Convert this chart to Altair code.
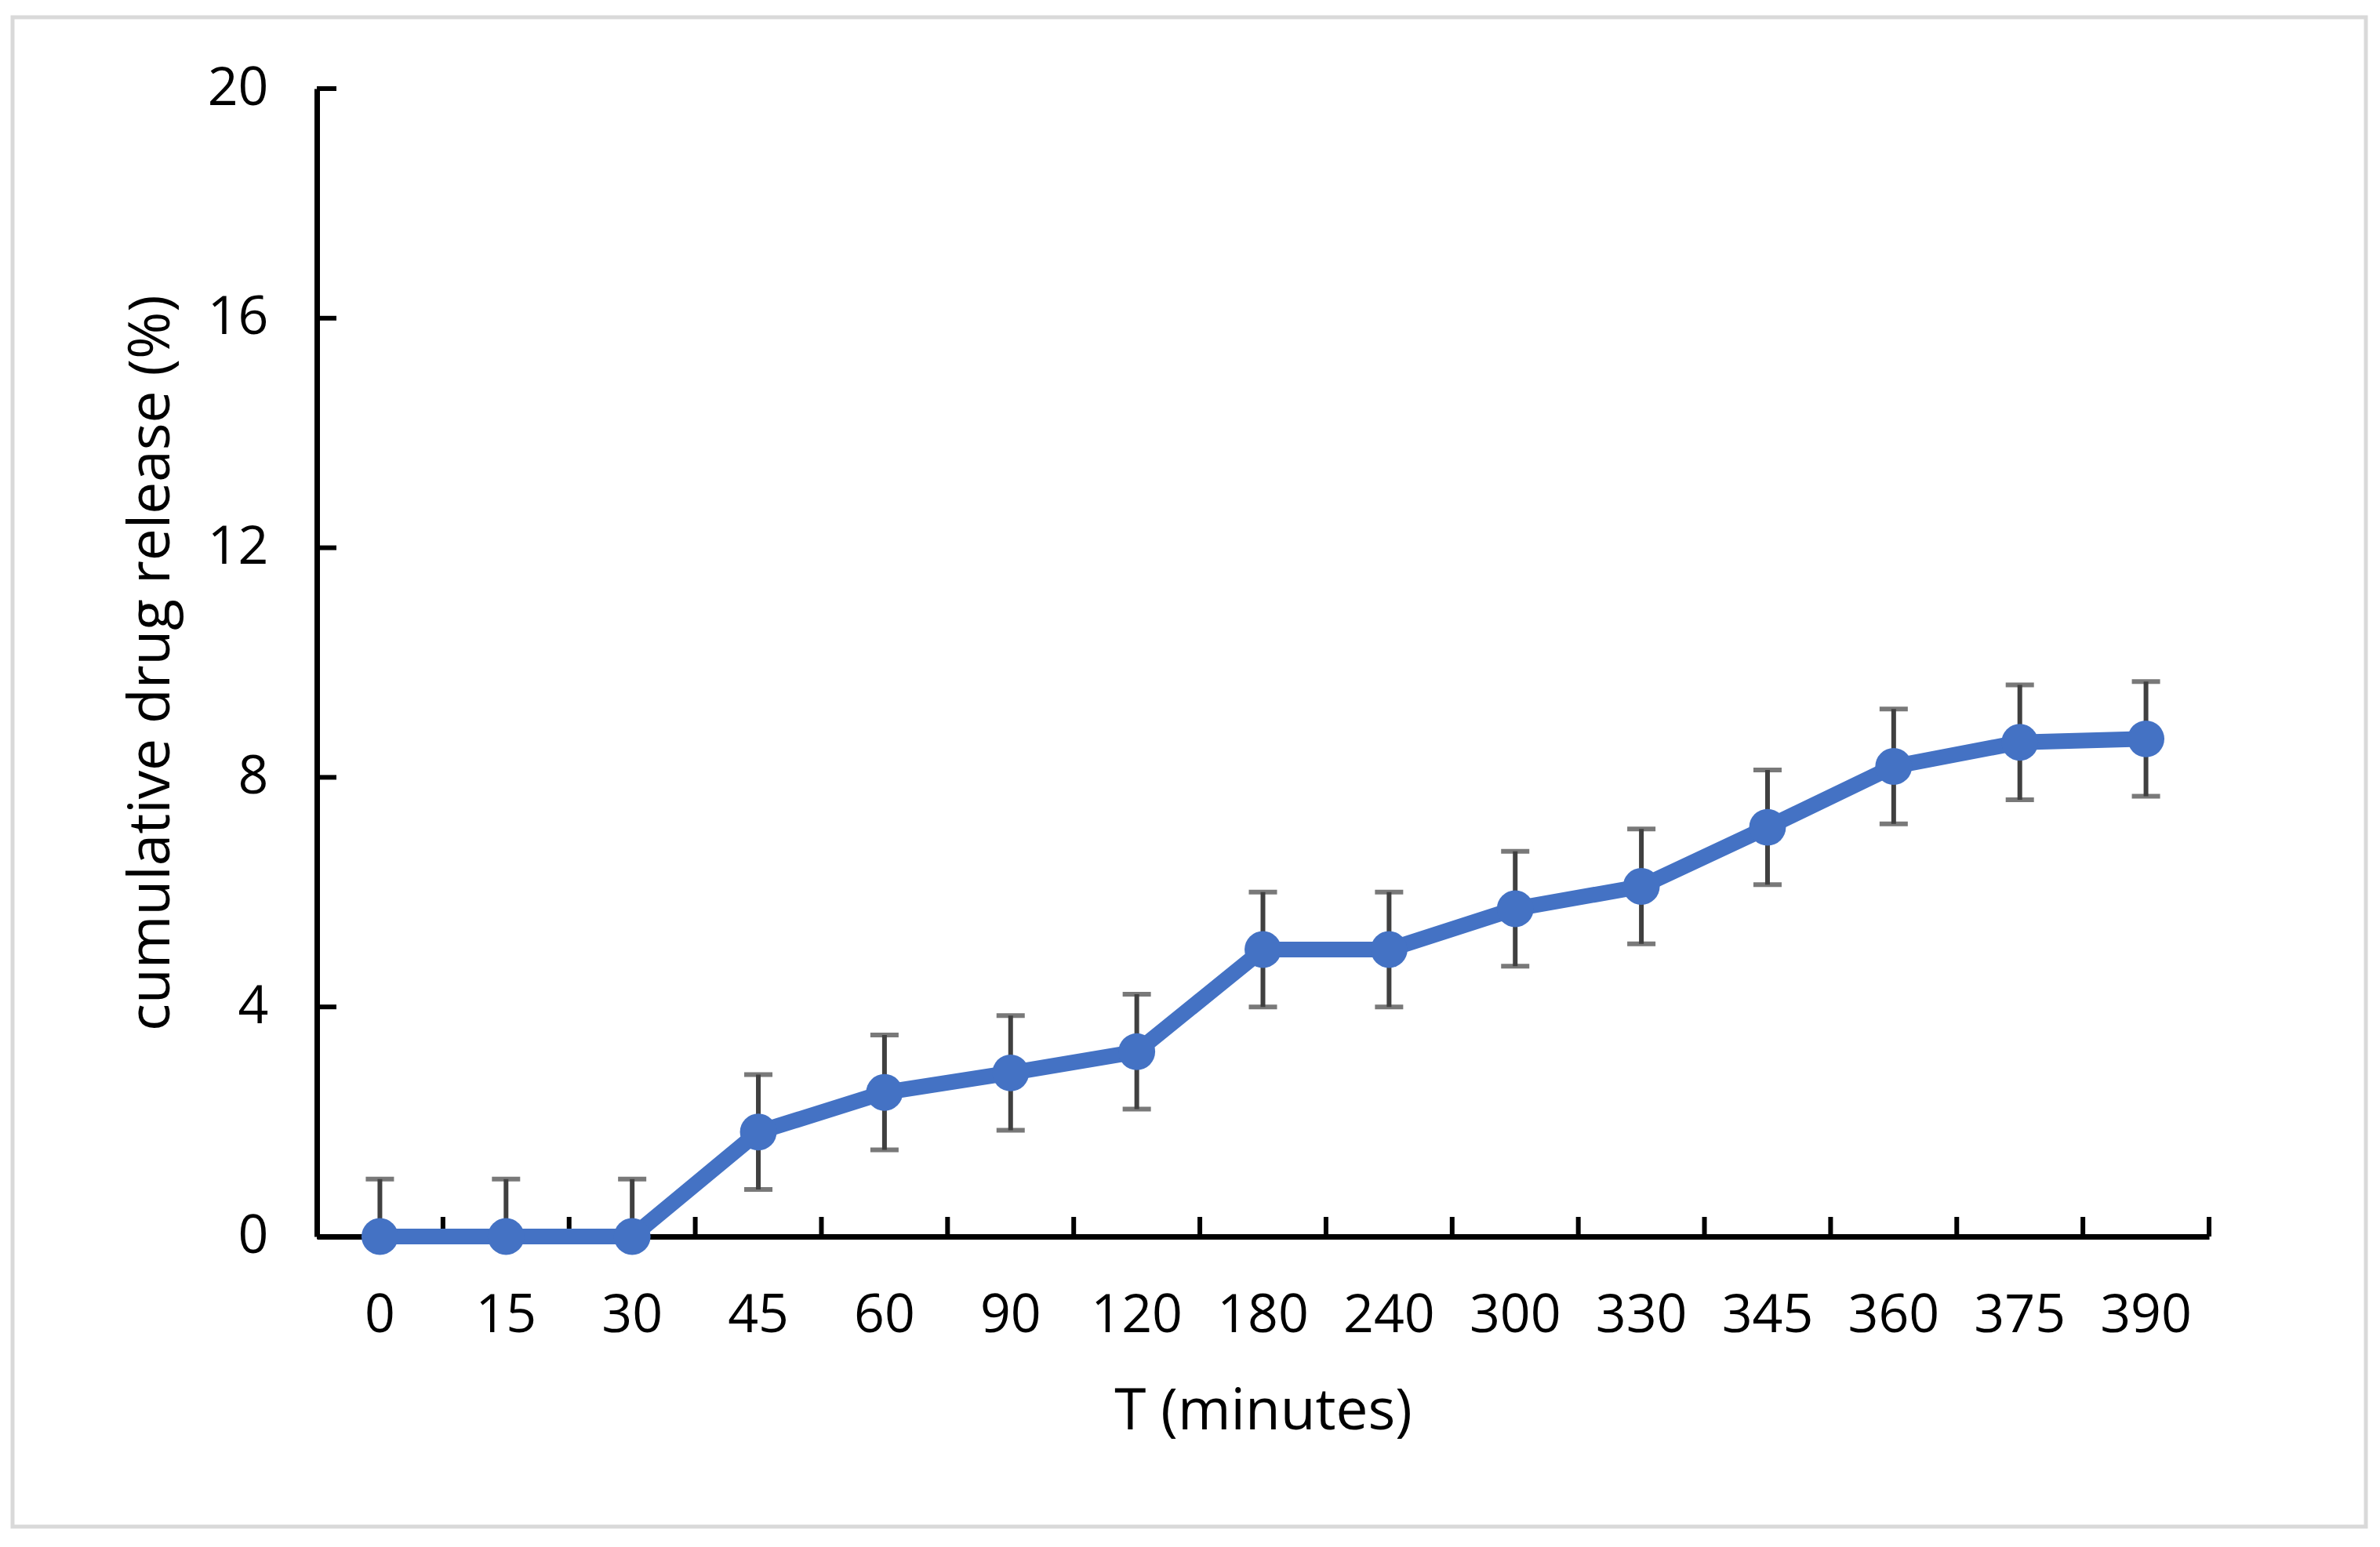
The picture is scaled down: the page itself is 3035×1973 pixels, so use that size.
import altair as alt
import pandas as pd

# ---- data ----
times = ["0", "15", "30", "45", "60", "90", "120", "180", "240", "300", "330", "345", "360", "375", "390"]
release = [0, 0, 0, 1.82, 2.51, 2.85, 3.22, 5.0, 5.0, 5.71, 6.1, 7.13, 8.19, 8.61, 8.67]
error = [1.0] * 15
y_ticks = [0, 4, 8, 12, 16, 20]

df = pd.DataFrame({"T": times, "pct": release, "err": error})
df["hi"] = df["pct"] + df["err"]
df["lo"] = (df["pct"] - df["err"]).clip(lower=0)
ticks_df = pd.DataFrame({"v": y_ticks})

W, H = 2413, 1464
FONT = "Open Sans"
BLUE = "#4472C4"
ERR = "#404040"

xscale = alt.Scale(type="band", domain=times, paddingInner=0, paddingOuter=0)
yscale = alt.Scale(domain=[0, 20], nice=False, zero=True)

base = alt.Chart(df)

x_axis = alt.Axis(
    title="T (minutes)", labelFont=FONT, labelFontSize=68, labelColor="#000000",
    titleFont=FONT, titleFontSize=73, titleFontWeight="normal", titleColor="#000000",
    ticks=False, labelPadding=67, titlePadding=52, labelAngle=0, bandPosition=0.5,
    domainColor="#000000", domainWidth=7, grid=False,
)
y_axis = alt.Axis(
    title="cumulative drug release (%)", values=y_ticks, format="d", labelFont=FONT,
    labelFontSize=68, labelColor="#000000", titleFont=FONT, titleFontSize=73,
    titleFontWeight="normal", titleColor="#000000", ticks=False, labelPadding=62,
    titlePadding=34, domainColor="#000000", domainWidth=7, grid=False,
)

X = lambda **kw: alt.X("T:N", sort=times, scale=xscale, axis=x_axis, **kw)

err_rule = base.mark_rule(color=ERR, strokeWidth=6).encode(
    x=X(), y=alt.Y("lo:Q", scale=yscale, axis=y_axis), y2="hi:Q",
)

# frame around the whole figure (decoration)
frame = alt.Chart(pd.DataFrame({"a": [0]})).mark_rect(
    fill="transparent", stroke="#d9d9d9", strokeWidth=5
).encode(x=alt.value(-388), x2=alt.value(2613), y=alt.value(-91), y2=alt.value(1834))

cap_hi = base.mark_tick(color=ERR, size=36, thickness=6).encode(
    x=X(), y=alt.Y("hi:Q", scale=yscale, axis=y_axis)
)
cap_lo = base.mark_tick(color=ERR, size=36, thickness=6).encode(
    x=X(), y=alt.Y("lo:Q", scale=yscale, axis=y_axis)
)
line = base.mark_line(color=BLUE, strokeWidth=20).encode(
    x=X(), y=alt.Y("pct:Q", scale=yscale, axis=y_axis)
)
pts = base.mark_point(color=BLUE, filled=True, size=2200, opacity=1).encode(
    x=X(), y=alt.Y("pct:Q", scale=yscale, axis=y_axis)
)

# inside tick marks (Excel style) on both axes
xt = base.mark_rule(color="#000000", strokeWidth=6).encode(
    x=X(bandPosition=0), y=alt.value(H), y2=alt.value(H - 25),
)
xt_end = base.transform_filter(alt.datum.T == times[-1]).mark_rule(
    color="#000000", strokeWidth=6
).encode(
    x=X(bandPosition=1), y=alt.value(H), y2=alt.value(H - 25),
)
yt = alt.Chart(ticks_df).mark_rule(color="#000000", strokeWidth=6).encode(
    y=alt.Y("v:Q", scale=yscale, axis=y_axis), x=alt.value(0), x2=alt.value(25)
)

chart = alt.layer(err_rule, frame, xt, xt_end, yt, cap_hi, cap_lo, line, pts).properties(
    width=W, height=H,
    autosize=alt.AutoSizeParams(type="none"),
    padding={"left": 396, "top": 105, "right": 203, "bottom": 375},
).configure(background="#ffffff").configure_view(strokeWidth=0, stroke="transparent")

chart.save("out.html", embed_options={"renderer": "svg", "actions": False})
